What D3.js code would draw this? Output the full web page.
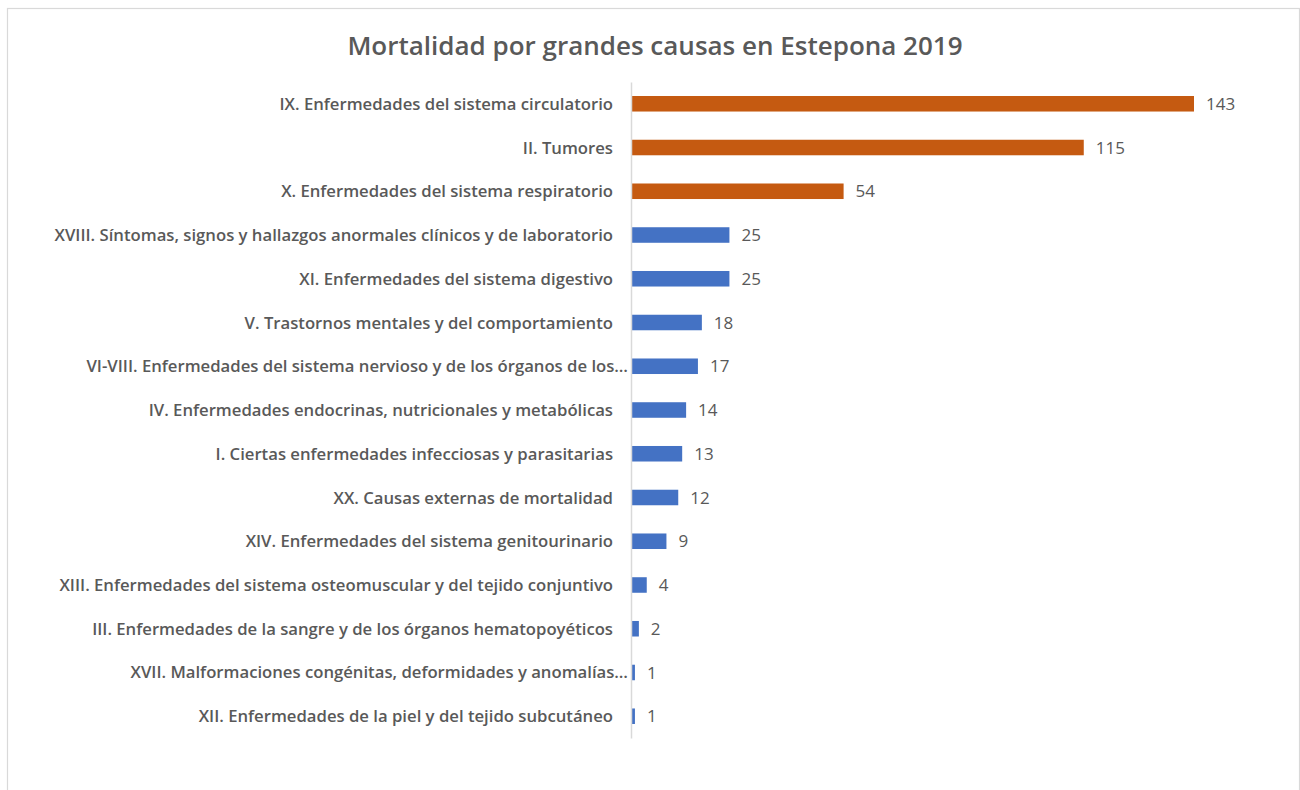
<!DOCTYPE html>
<html>
<head>
<meta charset="utf-8">
<script src="https://cdn.jsdelivr.net/npm/d3@7/dist/d3.min.js"></script>
<style>
  html, body { margin: 0; padding: 0; background: #ffffff; }
  svg { display: block; }
</style>
</head>
<body>
<svg id="chart" width="1300" height="790"></svg>
<script>
// Causes of death, ordered from most to fewest deaths
const causes = [
  "IX. Enfermedades del sistema circulatorio",
  "II. Tumores",
  "X. Enfermedades del sistema respiratorio",
  "XVIII. Síntomas, signos y hallazgos anormales clínicos y de laboratorio",
  "XI. Enfermedades del sistema digestivo",
  "V. Trastornos mentales y del comportamiento",
  "VI-VIII. Enfermedades del sistema nervioso y de los órganos de los…",
  "IV. Enfermedades endocrinas, nutricionales y metabólicas",
  "I. Ciertas enfermedades infecciosas y parasitarias",
  "XX. Causas externas de mortalidad",
  "XIV. Enfermedades del sistema genitourinario",
  "XIII. Enfermedades del sistema osteomuscular y del tejido conjuntivo",
  "III. Enfermedades de la sangre y de los órganos hematopoyéticos",
  "XVII. Malformaciones congénitas, deformidades y anomalías…",
  "XII. Enfermedades de la piel y del tejido subcutáneo"
];
const deaths = [143, 115, 54, 25, 25, 18, 17, 14, 13, 12, 9, 4, 2, 1, 1];
// The three leading causes are highlighted
const highlighted = [
  "IX. Enfermedades del sistema circulatorio",
  "II. Tumores",
  "X. Enfermedades del sistema respiratorio"
];
const title = "Mortalidad por grandes causas en Estepona 2019";

const svg = d3.select("#chart");
const font = "'Open Sans', 'Noto Sans', sans-serif";
const textColor = "#595959";

// Chart frame
svg.append("rect")
  .attr("x", 7.5).attr("y", 8.5)
  .attr("width", 1292).attr("height", 800)
  .attr("fill", "#ffffff")
  .attr("stroke", "#d9d9d9")
  .attr("stroke-width", 1.2);

const plot = { left: 631, right: 1194, top: 82, bottom: 738 };

const x = d3.scaleLinear()
  .domain([0, d3.max(deaths)])
  .range([plot.left, plot.right]);

const y = d3.scaleBand()
  .domain(causes)
  .range([plot.top, plot.bottom])
  .paddingInner(0.645)
  .paddingOuter(0.32);

const rows = causes.map((c, i) => ({ cause: c, value: deaths[i] }));

// Title
svg.append("text")
  .attr("x", 655).attr("y", 55)
  .attr("text-anchor", "middle")
  .attr("font-family", font)
  .attr("font-weight", 600)
  .attr("font-size", 26)
  .attr("fill", textColor)
  .text(title);

// Bars
svg.append("g").selectAll("rect")
  .data(rows)
  .join("rect")
  .attr("x", x(0))
  .attr("y", d => y(d.cause))
  .attr("width", d => x(d.value) - x(0))
  .attr("height", y.bandwidth())
  .attr("fill", d => highlighted.includes(d.cause) ? "#c55a11" : "#4472c4");

// Category axis (line only, labels drawn separately)
const yAxis = d3.axisLeft(y).tickSize(0).tickFormat("");
const axisG = svg.append("g")
  .attr("transform", `translate(${plot.left},0)`)
  .call(yAxis);
axisG.select(".domain")
  .attr("stroke", "#d9d9d9")
  .attr("stroke-width", 1.5);

// Category labels; truncated names run right up to the axis
svg.append("g").selectAll("text")
  .data(rows)
  .join("text")
  .attr("x", d => d.cause.endsWith("…") ? plot.left - 3 : plot.left - 18)
  .attr("y", d => y(d.cause) + y.bandwidth() / 2)
  .attr("dy", "0.36em")
  .attr("text-anchor", "end")
  .attr("font-family", font)
  .attr("font-weight", 600)
  .attr("font-size", 16.7)
  .attr("fill", textColor)
  .text(d => d.cause);

// Value labels
svg.append("g").selectAll("text")
  .data(rows)
  .join("text")
  .attr("x", d => x(d.value) + 12)
  .attr("y", d => y(d.cause) + y.bandwidth() / 2)
  .attr("dy", "0.36em")
  .attr("font-family", font)
  .attr("font-size", 17)
  .attr("fill", textColor)
  .text(d => d.value);
</script>
</body>
</html>
